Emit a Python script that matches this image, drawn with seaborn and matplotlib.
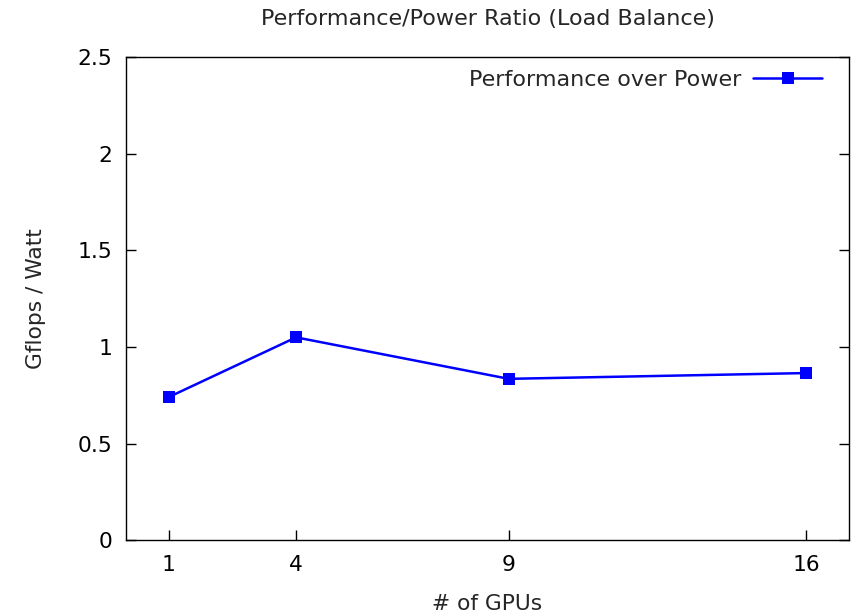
import matplotlib
matplotlib.use("Agg")
import matplotlib.pyplot as plt
import seaborn as sns
import pandas as pd
from matplotlib.ticker import FuncFormatter

gpus = [1, 4, 9, 16]
gflops_per_watt = [0.74, 1.05, 0.835, 0.865]
x_ticks = [1, 4, 9, 16]
y_ticks = [0, 0.5, 1, 1.5, 2, 2.5]

df = pd.DataFrame({"gpus": gpus, "ratio": gflops_per_watt})

sns.set_style("white")
plt.rcParams["font.family"] = ["DejaVu Sans"]

FS = 15.7

fig = plt.figure(figsize=(8.53, 6.14), dpi=100)
ax = fig.add_axes([0.1477, 0.1205, 0.8476, 0.7859])

sns.lineplot(data=df, x="gpus", y="ratio", ax=ax, color="#0000ff",
             linewidth=1.8, marker="s", markersize=8, markeredgewidth=0,
             label="Performance over Power")

ax.set_xlim(0, 17)
ax.set_ylim(0, 2.5)
ax.set_xticks(x_ticks)
ax.set_yticks(y_ticks)
ax.yaxis.set_major_formatter(FuncFormatter(lambda v, p: f"{v:g}"))

for s in ax.spines.values():
    s.set_visible(True)
    s.set_color("black")
    s.set_linewidth(1.0)

ax.tick_params(axis="x", direction="in", length=7, width=1, bottom=True,
               top=False, labelsize=FS, pad=10.5, colors="black")
ax.tick_params(axis="y", direction="in", length=7, width=1, left=True,
               right=True, labelsize=FS, pad=10, colors="black")

ax.set_xlabel("# of GPUs", fontsize=FS)
ax.set_ylabel("Gflops / Watt", fontsize=FS)
ax.xaxis.set_label_coords(0.5, -0.112)
ax.yaxis.set_label_coords(-0.111, 0.5)
fig.text(0.5715, 0.969, "Performance/Power Ratio (Load Balance)",
         fontsize=FS + 0.3, ha="center", va="center")

ax.legend(loc="upper right", bbox_to_anchor=(0.9627, 0.974), frameon=False,
          markerfirst=False, fontsize=FS + 0.3, handlelength=3.1,
          handletextpad=0.55, borderaxespad=0, borderpad=0)

fig.savefig("out.png", dpi=100, facecolor="white")
